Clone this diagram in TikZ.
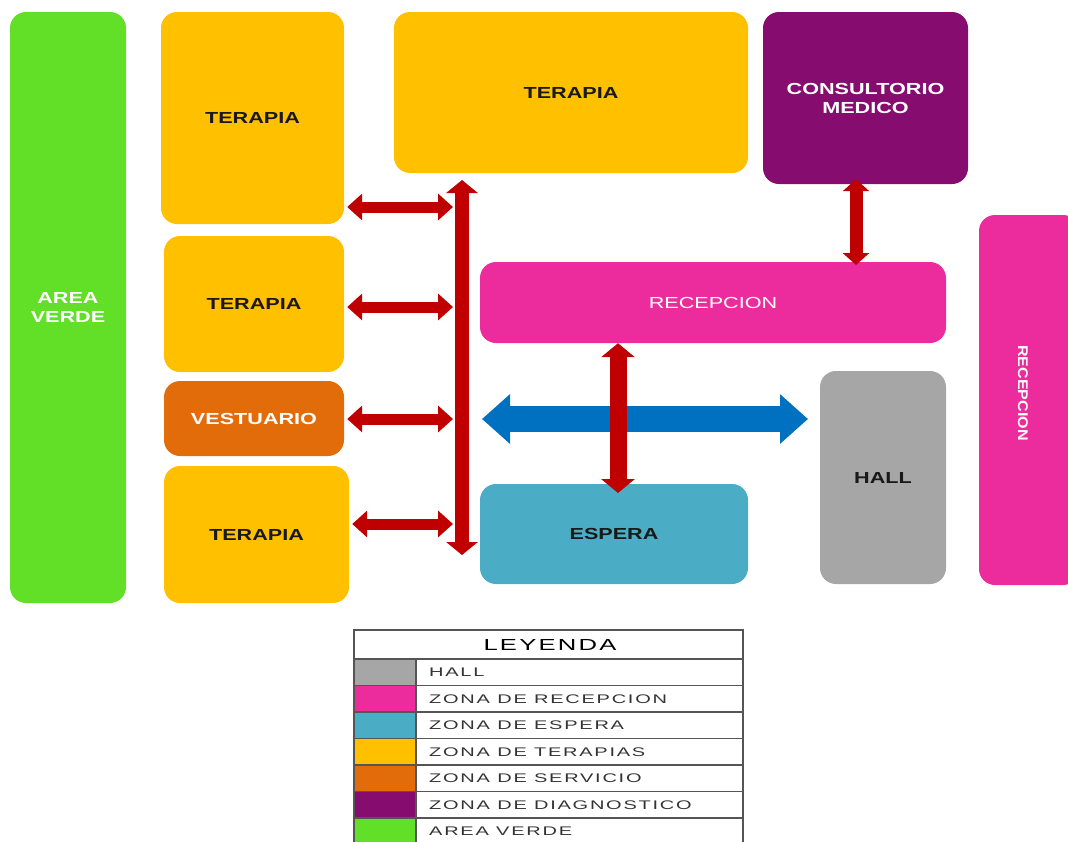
\documentclass[tikz,border=0pt]{standalone}
\usepackage{fontspec}
\setmainfont{Liberation Sans}[FakeStretch=1.35]
\newfontfamily\legendfont{Liberation Sans}[FakeStretch=1.6,LetterSpace=14]
\usetikzlibrary{arrows.meta}

\definecolor{cVerde}{HTML}{62DF27}
\definecolor{cTerapia}{HTML}{FFC000}
\definecolor{cServicio}{HTML}{E36C0A}
\definecolor{cDiag}{HTML}{870C70}
\definecolor{cRecep}{HTML}{EC2C9C}
\definecolor{cEspera}{HTML}{4BACC6}
\definecolor{cHall}{HTML}{A6A6A6}
\definecolor{cRed}{HTML}{C00000}
\definecolor{cBlue}{HTML}{0070C0}
\definecolor{cLine}{HTML}{555555}

\begin{document}
\begin{tikzpicture}[x=1pt,y=-1pt,
  room/.style={rounded corners=16pt, inner sep=0pt, align=center,
    font=\bfseries\fontsize{16}{20}\selectfont},
  darktext/.style={text=black!90},
  lighttext/.style={text=white},
  redarrow/.style n args={3}{draw=cRed, line width=#1,
    arrows={Triangle[length=#2,width=#3]-Triangle[length=#2,width=#3]}},
  bluearrow/.style={draw=cBlue, line width=26pt,
    arrows={Triangle[length=28pt,width=48pt]-Triangle[length=28pt,width=48pt]}},
  legline/.style={draw=cLine, line width=1.3pt},
  legtext/.style={anchor=west, inner sep=0pt, text=black!80,
    font=\legendfont\fontsize{12.5}{15}\selectfont}]

\useasboundingbox (0,0) rectangle (1068,841);
\clip (0,0) rectangle (1068,841);

% rooms
\node[room, fill=cVerde, lighttext, minimum width=116pt, minimum height=591pt]
  (verde) at (68,307.5) {AREA\\[-1pt]VERDE};
\node[room, fill=cTerapia, darktext, minimum width=183pt, minimum height=212pt]
  (ter1) at (252.5,118) {TERAPIA};
\node[room, fill=cTerapia, darktext, minimum width=180pt, minimum height=136pt]
  (ter2) at (254,304) {TERAPIA};
\node[room, fill=cServicio, lighttext, minimum width=180pt, minimum height=75pt]
  (vest) at (254,418.5) {VESTUARIO};
\node[room, fill=cTerapia, darktext, minimum width=185pt, minimum height=137pt]
  (ter3) at (256.5,534.5) {TERAPIA};
\node[room, fill=cTerapia, darktext, minimum width=354pt, minimum height=161pt]
  (terTop) at (571,92.5) {TERAPIA};
\node[room, fill=cDiag, lighttext, minimum width=205pt, minimum height=172pt]
  (cons) at (865.5,98) {CONSULTORIO\\[-1pt]MEDICO};
\node[room, fill=cRecep, lighttext, minimum width=466pt, minimum height=81pt,
  font=\fontsize{16}{20}\selectfont]
  (rec) at (713,302.5) {RECEPCION};
\node[room, fill=cRecep, minimum width=100pt, minimum height=370pt,
  label={[rotate=-90, xshift=-7pt, yshift=-6pt, text=white,
    font=\bfseries\fontsize{14}{17}\selectfont]center:\scalebox{0.85}[1]{RECEPCION}}]
  (recR) at (1029,400) {};
\node[room, fill=cHall, darktext, minimum width=126pt, minimum height=213pt]
  (hall) at (883,477.5) {HALL};
\node[room, fill=cEspera, darktext, minimum width=268pt, minimum height=100pt]
  (esp) at (614,534) {ESPERA};

% circulation points
\coordinate (busTop) at (462,180);
\coordinate (busBot) at (462,555);
\coordinate (b1) at (453,207);
\coordinate (b2) at (453,307);
\coordinate (b3) at (453,419);
\coordinate (b4) at (453,524);
\coordinate (blueL) at (482,419);
\coordinate (blueR) at (808,419);
\coordinate (reBot) at (618,493);
\coordinate (consBot) at (856,265);

% main circulation
\draw[bluearrow] (blueL) -- (blueR);
\draw[redarrow={14pt}{13pt}{31pt}] (busTop) -- (busBot);
\draw[redarrow={11pt}{15pt}{26pt}, shorten <=3pt] (ter1.east |- b1) -- (b1);
\draw[redarrow={11pt}{15pt}{26pt}, shorten <=3pt] (ter2.east |- b2) -- (b2);
\draw[redarrow={11pt}{15pt}{26pt}, shorten <=3pt] (vest.east |- b3) -- (b3);
\draw[redarrow={11pt}{15pt}{26pt}, shorten <=3pt] (ter3.east |- b4) -- (b4);
\draw[redarrow={17pt}{14pt}{33pt}] (rec.south -| reBot) -- (reBot);
\draw[redarrow={13pt}{12pt}{26pt}, shorten <=-5pt] (cons.south -| consBot) -- (consBot);

% legend
\draw[legline] (354,630) rectangle (743,850);
\node[inner sep=0pt, text=black, font=\legendfont\fontsize{16}{19}\selectfont]
  (ley) at (550,644.5) {LEYENDA};
\foreach \c/\t [count=\i from 0] in {cHall/HALL, cRecep/ZONA DE RECEPCION,
    cEspera/ZONA DE ESPERA, cTerapia/ZONA DE TERAPIAS, cServicio/ZONA DE SERVICIO,
    cDiag/ZONA DE DIAGNOSTICO, cVerde/AREA VERDE} {
  \fill[\c] (354,659+\i*26.5) rectangle (416,685.5+\i*26.5);
  \draw[legline] (354,659+\i*26.5) -- (743,659+\i*26.5);
  \node[legtext] (leg\i) at (429,672.5+\i*26.5) {\t};
}
\draw[legline] (416,659) -- (416,850);
\draw[legline] (354,630) -- (354,850);
\end{tikzpicture}
\end{document}
